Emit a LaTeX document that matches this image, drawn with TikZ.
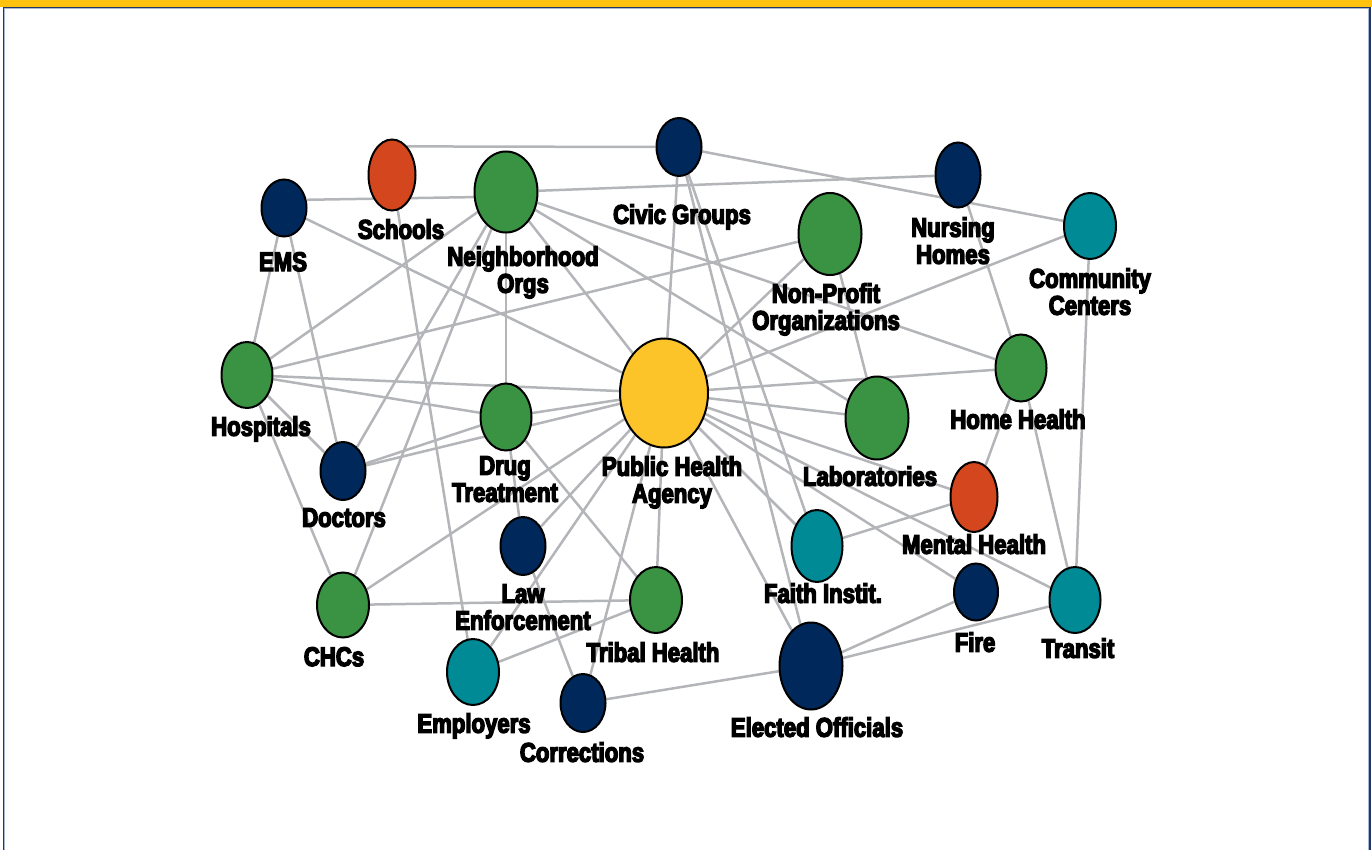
\documentclass[tikz,border=0pt]{standalone}
\usepackage{fontspec}
\newfontfamily\lblfont{Liberation Sans}[FakeStretch=0.82, BoldFeatures={FakeBold=5}]
\usetikzlibrary{shapes.geometric}
\pgfdeclarelayer{background}
\pgfsetlayers{background,main}
\definecolor{navy}{HTML}{00285A}
\definecolor{orng}{HTML}{D4461E}
\definecolor{grn}{HTML}{3A9343}
\definecolor{teal}{HTML}{008A96}
\definecolor{yel}{HTML}{FDC42A}
\definecolor{band}{HTML}{FFC20E}
\definecolor{edgegray}{HTML}{B3B5B8}
\definecolor{frame}{HTML}{1F3864}
\definecolor{framelight}{HTML}{A9B8CF}
\tikzset{
  vert/.style={ellipse, draw=black, line width=2pt, inner sep=0pt},
  vnavy/.style={vert, fill=navy},
  vorng/.style={vert, fill=orng},
  vgrn/.style={vert, fill=grn},
  vteal/.style={vert, fill=teal},
  vyel/.style={vert, fill=yel},
  lbl/.style={anchor=north, inner sep=0pt, align=center, text=black,
    font=\lblfont\bfseries\fontsize{27}{27}\selectfont},
  link/.style={draw=edgegray, line width=2.5pt},
}
\begin{document}
\begin{tikzpicture}[x=1pt, y=-1pt]
\useasboundingbox (0,0) rectangle (1372,850);
% frame
\fill[band] (0,0) rectangle (1372,7);
\draw[frame, line width=1.3pt] (3.6,850) -- (3.6,7.6) -- (1370,7.6) -- (1370,850);
\draw[framelight, line width=0.9pt] (4.9,850) -- (4.9,8.8) -- (1368.6,8.8) -- (1368.6,850);

% vertices
\node[vnavy, minimum width=45, minimum height=57] (ems) at (284,208) {};
\node[vorng, minimum width=47, minimum height=71] (schools) at (392,175) {};
\node[vgrn, minimum width=63, minimum height=81] (nbhd) at (506,192) {};
\node[vnavy, minimum width=45, minimum height=58] (civic) at (679,147) {};
\node[vnavy, minimum width=45, minimum height=65] (nursing) at (958,175) {};
\node[vteal, minimum width=52, minimum height=66] (cc) at (1090,226) {};
\node[vgrn, minimum width=63, minimum height=82] (nonprofit) at (830,234) {};
\node[vgrn, minimum width=51, minimum height=66] (hosp) at (247,375) {};
\node[vgrn, minimum width=51, minimum height=67] (drug) at (506,417) {};
\node[vyel, minimum width=88, minimum height=109] (pha) at (664,393) {};
\node[vgrn, minimum width=63, minimum height=83] (labs) at (877,418) {};
\node[vgrn, minimum width=51, minimum height=67] (home) at (1021,368) {};
\node[vnavy, minimum width=45, minimum height=58] (doctors) at (343,471) {};
\node[vorng, minimum width=47, minimum height=70] (mental) at (974,497) {};
\node[vnavy, minimum width=45, minimum height=58] (law) at (523,546) {};
\node[vteal, minimum width=51, minimum height=72] (faith) at (817,546) {};
\node[vgrn, minimum width=52, minimum height=65] (chcs) at (343,605) {};
\node[vgrn, minimum width=52, minimum height=66] (tribal) at (656,600) {};
\node[vnavy, minimum width=44, minimum height=57] (fire) at (976,592) {};
\node[vteal, minimum width=51, minimum height=66] (transit) at (1075,600) {};
\node[vteal, minimum width=52, minimum height=66] (employers) at (473,672) {};
\node[vnavy, minimum width=45, minimum height=58] (corrections) at (583,703) {};
\node[vnavy, minimum width=63, minimum height=87] (elected) at (811,666) {};

% labels
\node[lbl] (ems-l) at (283,252) {EMS};
\node[lbl] (schools-l) at (401,219) {Schools};
\node[lbl] (nbhd-l) at (523,246) {Neighborhood\\Orgs};
\node[lbl] (civic-l) at (682,204) {Civic Groups};
\node[lbl] (nursing-l) at (953,217) {Nursing\\Homes};
\node[lbl] (cc-l) at (1090,268) {Community\\Centers};
\node[lbl] (nonprofit-l) at (826,283) {Non-Profit\\Organizations};
\node[lbl] (hosp-l) at (261,416) {Hospitals};
\node[lbl] (drug-l) at (505,456) {Drug\\Treatment};
\node[lbl] (pha-l) at (672,456) {Public Health\\Agency};
\node[lbl] (labs-l) at (870,466) {Laboratories};
\node[lbl] (home-l) at (1018,409) {Home Health};
\node[lbl] (doctors-l) at (344,508) {Doctors};
\node[lbl] (mental-l) at (974,534) {Mental Health};
\node[lbl] (law-l) at (523,584) {Law\\Enforcement};
\node[lbl] (faith-l) at (823,583) {Faith Instit.};
\node[lbl] (chcs-l) at (334,647) {CHCs};
\node[lbl] (tribal-l) at (653,642) {Tribal Health};
\node[lbl] (fire-l) at (975,632) {Fire};
\node[lbl] (transit-l) at (1078,638) {Transit};
\node[lbl] (employers-l) at (474,713) {Employers};
\node[lbl] (corrections-l) at (582,742) {Corrections};
\node[lbl] (elected-l) at (817,717) {Elected Officials};

% connectors
\begin{pgfonlayer}{background}
\draw[link] (schools.62) -- (civic.west);
\draw[link] (ems.20) -- (nbhd.189);
\foreach \a/\b in {
  nbhd/nursing, civic/cc,
  ems/hosp, ems/doctors, ems/pha, schools/employers,
  nbhd/hosp, nbhd/doctors, nbhd/chcs, nbhd/drug, nbhd/pha, nbhd/home, nbhd/labs,
  hosp/nonprofit, hosp/pha, hosp/drug, hosp/doctors, hosp/chcs,
  doctors/drug, doctors/pha, drug/pha, drug/law, drug/tribal,
  chcs/pha, chcs/tribal, law/pha, law/corrections,
  employers/pha, employers/tribal, corrections/pha, corrections/elected,
  tribal/pha, pha/labs, pha/mental, pha/transit, pha/fire, pha/faith, pha/elected,
  civic/faith, civic/elected, civic/pha, mental/faith,
  home/mental, home/transit, cc/transit, fire/elected, transit/elected,
  nonprofit/pha, nonprofit/labs, cc/pha, pha/home, nursing/home}
  \draw[link] (\a) -- (\b);
\end{pgfonlayer}
\end{tikzpicture}
\end{document}
